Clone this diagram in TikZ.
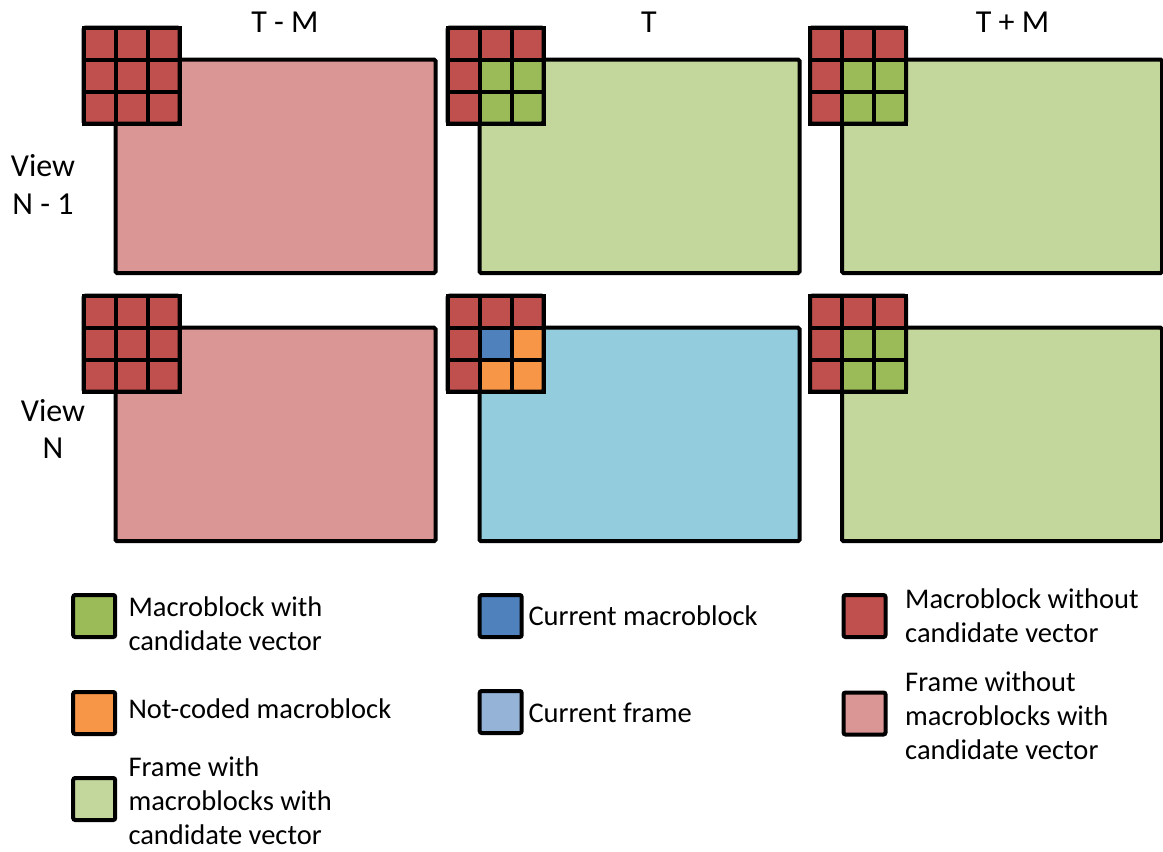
\documentclass[tikz,border=0pt]{standalone}
\usepackage{fontspec}
\setmainfont{Carlito}

\definecolor{mbred}{HTML}{C0504D}
\definecolor{mbgreen}{HTML}{9BBB59}
\definecolor{mbblue}{HTML}{4F81BD}
\definecolor{mborange}{HTML}{F79646}
\definecolor{framepink}{HTML}{D99694}
\definecolor{framegreen}{HTML}{C3D69B}
\definecolor{frameaqua}{HTML}{93CDDD}
\definecolor{framecur}{HTML}{95B3D7}

% 3x3 macroblock neighbourhood whose centre-left/centre-top lines sit on the
% frame corner (#2,#3); #4 lists the nine cell colours row by row
\newcommand\mbgrid[4]{%
  \foreach \mbcolour [count=\mbi from 0] in {#4} {
    \pgfmathtruncatemacro\mbcx{mod(\mbi,3)}
    \pgfmathtruncatemacro\mbry{\mbi/3}
    \node[cell, fill=\mbcolour] (#1-\mbi) at ({#2-16+32*\mbcx},{#3-16+32*\mbry}) {};
  }
  \draw[line width=4pt, rounded corners=2pt] (#1-0.north west) rectangle (#1-8.south east);
}

\begin{document}
\begin{tikzpicture}[x=1pt, y=-1pt,
  cell/.style={draw=black, line width=4pt, minimum size=32pt, inner sep=0pt, outer sep=0pt},
  frame/.style={draw=black, line width=4pt, rounded corners=1.5pt, minimum width=320pt,
                minimum height=213.5pt, anchor=north west, inner sep=0pt, outer sep=0pt},
  key/.style={draw=black, line width=4pt, rounded corners=2pt, minimum size=42pt,
              inner sep=0pt, outer sep=0pt},
  lgd/.style={anchor=base west, inner sep=0pt, font=\fontsize{28.5}{34}\selectfont},
  head/.style={anchor=base, inner sep=0pt, font=\fontsize{32}{38}\selectfont}]

\useasboundingbox (0,0) rectangle (1163,852);

% column headings
\node[head] (hTM) at (285,32) {T - M};
\node[head] (hT)  at (649,32) {T};
\node[head] (hTP) at (1012.5,32) {T + M};

% row headings
\node[head] (vN1) at (43,176) {\begin{tabular}[t]{@{}c@{}}View\\N - 1\end{tabular}};
\node[head, font=\fontsize{32}{36.5}\selectfont] (vN) at (53,421.7) {\begin{tabular}[t]{@{}c@{}}View\\N\end{tabular}};

% view N-1
\node[frame, fill=framepink]  (f11) at (115.5,59.5) {};
\node[frame, fill=framegreen] (f12) at (479.5,59.5) {};
\node[frame, fill=framegreen] (f13) at (842,59.5) {};
\mbgrid{g11}{115.5}{59.5}{mbred,mbred,mbred,mbred,mbred,mbred,mbred,mbred,mbred}
\mbgrid{g12}{479.5}{59.5}{mbred,mbred,mbred,mbred,mbgreen,mbgreen,mbred,mbgreen,mbgreen}
\mbgrid{g13}{842}{59.5}{mbred,mbred,mbred,mbred,mbgreen,mbgreen,mbred,mbgreen,mbgreen}

% view N
\node[frame, fill=framepink]  (f21) at (115.5,327.7) {};
\node[frame, fill=frameaqua]  (f22) at (479.5,327.7) {};
\node[frame, fill=framegreen] (f23) at (842,327.7) {};
\mbgrid{g21}{115.5}{327.7}{mbred,mbred,mbred,mbred,mbred,mbred,mbred,mbred,mbred}
\mbgrid{g22}{479.5}{327.7}{mbred,mbred,mbred,mbred,mbblue,mborange,mbred,mborange,mborange}
\mbgrid{g23}{842}{327.7}{mbred,mbred,mbred,mbred,mbgreen,mbgreen,mbred,mbgreen,mbgreen}

% legend
\node[key, fill=mbgreen]    (kGreen)  at (94.2,616) {};
\node[key, fill=mborange]   (kOrange) at (94.2,713) {};
\node[key, fill=framegreen] (kFGreen) at (94.2,799) {};
\node[key, fill=mbblue]     (kBlue)   at (500.7,616) {};
\node[key, fill=framecur]   (kFCur)   at (500.7,712) {};
\node[key, fill=mbred]      (kRed)    at (864.5,616) {};
\node[key, fill=framepink]  (kFPink)  at (864.5,713.5) {};

\node[lgd] (tGreen)  at (128.3,616.7) {\begin{tabular}[t]{@{}l@{}}Macroblock with\\candidate vector\end{tabular}};
\node[lgd] (tOrange) at (128.3,718.3) {Not-coded macroblock};
\node[lgd] (tFGreen) at (128.3,776.7) {\begin{tabular}[t]{@{}l@{}}Frame with\\macroblocks with\\candidate vector\end{tabular}};
\node[lgd] (tBlue)   at (528.3,625) {Current macroblock};
\node[lgd] (tFCur)   at (528.3,722.7) {Current frame};
\node[lgd] (tRed)    at (905,608) {\begin{tabular}[t]{@{}l@{}}Macroblock without\\candidate vector\end{tabular}};
\node[lgd] (tFPink)  at (905,691.7) {\begin{tabular}[t]{@{}l@{}}Frame without\\macroblocks with\\candidate vector\end{tabular}};

\end{tikzpicture}
\end{document}
